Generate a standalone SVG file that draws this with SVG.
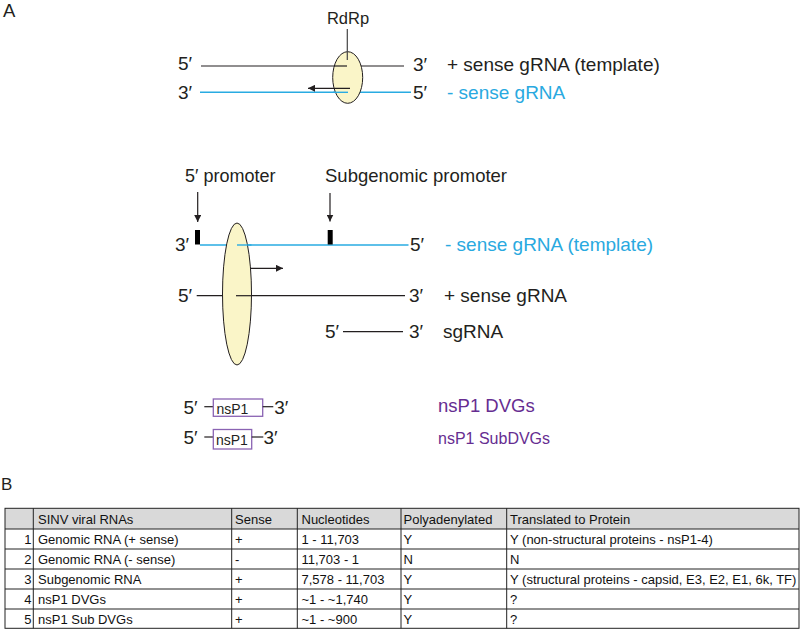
<svg xmlns="http://www.w3.org/2000/svg" width="800" height="630" viewBox="0 0 800 630">
<style>
  .t{font-family:"Liberation Sans",Arial,sans-serif;fill:#231f20}
  .lbl{font-size:19px}
  .blue{fill:#29a9e0}
  .purple{fill:#662d91}
  .bl{stroke:#231f20;stroke-width:1.2;fill:none}
  .bll{stroke:#29abe2;stroke-width:1.4;fill:none}
  .ell{fill:#faf5c8;stroke:#231f20;stroke-width:1}
  .tb{font-family:"Liberation Sans",Arial,sans-serif;font-size:13px;fill:#111}
  .grid{stroke:#222;stroke-width:1;fill:none}
</style>
<defs>
  <marker id="ah" viewBox="0 0 10 10" refX="10" refY="5" markerWidth="7" markerHeight="7" markerUnits="userSpaceOnUse" orient="auto">
    <path d="M0,0 L10,5 L0,10 z" fill="#231f20"/>
  </marker>
</defs>
<rect width="800" height="630" fill="#fff"/>

<text class="t" x="3" y="16.5" font-size="18.5">A</text>
<text class="t" x="1" y="490" font-size="17">B</text>

<!-- Top replication of -sense -->
<g id="top-strands">
  <line class="bl" x1="201" y1="66" x2="404" y2="66"/>
  <line class="bll" x1="200" y1="92.3" x2="411" y2="92.3"/>
  <text class="t lbl" x="178" y="70">5′</text>
  <text class="t lbl" x="178" y="99">3′</text>
  <text class="t lbl" x="413" y="71">3′</text>
  <text class="t lbl" x="413" y="99">5′</text>
  <text class="t lbl" x="447" y="71">+ sense gRNA (template)</text>
  <text class="t lbl blue" x="447" y="99">- sense gRNA</text>
</g>
<g id="rdrp-top">
  <text class="t" x="348" y="24" font-size="16.5" text-anchor="middle">RdRp</text>
  <ellipse class="ell" cx="347.7" cy="77.5" rx="15" ry="25.8"/>
  <line class="bl" x1="334" y1="66" x2="347" y2="66"/>
  <line class="bll" x1="333" y1="92.3" x2="348" y2="92.3"/>
  <line x1="347.3" y1="29" x2="347.3" y2="60" stroke="#444" stroke-width="1.2"/>
</g>

<!-- Middle -->
<g id="promoter-labels">
  <text class="t" x="185" y="182" font-size="18">5′ promoter</text>
  <text class="t" x="325" y="182" font-size="18.5">Subgenomic promoter</text>
</g>
<g id="connectors">
  <line class="bl" x1="197.7" y1="192" x2="197.7" y2="222" marker-end="url(#ah)"/>
  <line class="bl" x1="330" y1="193" x2="330" y2="221.5" marker-end="url(#ah)"/>
  <line class="bl" x1="350" y1="88.3" x2="308" y2="88.3" marker-end="url(#ah)"/>
  <line class="bl" x1="240" y1="268.3" x2="283" y2="268.3" marker-end="url(#ah)"/>
</g>
<g id="minus-template">
  <line class="bll" x1="200" y1="245" x2="408.5" y2="245"/>
  <rect x="195" y="230" width="5" height="14.5" fill="#000"/>
  <rect x="327.7" y="230" width="5" height="14.5" fill="#000"/>
  <text class="t lbl" x="175" y="251">3′</text>
  <text class="t lbl" x="410" y="251">5′</text>
  <text class="t lbl blue" x="445" y="251">- sense gRNA (template)</text>
</g>
<g id="plus-gRNA">
  <line class="bl" x1="196.7" y1="295.7" x2="405" y2="295.7"/>
  <text class="t lbl" x="178" y="302">5′</text>
  <text class="t lbl" x="409" y="302">3′</text>
  <text class="t lbl" x="444" y="302">+ sense gRNA</text>
</g>
<g id="sgRNA">
  <line class="bl" x1="343" y1="331.7" x2="403" y2="331.7"/>
  <text class="t lbl" x="325" y="338">5′</text>
  <text class="t lbl" x="409" y="338">3′</text>
  <text class="t lbl" x="443" y="338">sgRNA</text>
</g>
<g id="rdrp-middle">
  <ellipse class="ell" cx="237" cy="294" rx="14.5" ry="71"/>
  <line class="bll" x1="237" y1="245" x2="251.5" y2="245"/>
  <line class="bl" x1="236" y1="295.7" x2="251.5" y2="295.7"/>
</g>

<!-- DVGs -->
<g id="nsP1-DVG">
  <text class="t lbl" x="183.5" y="414">5′</text>
  <line class="bl" x1="204.3" y1="406.7" x2="213.3" y2="406.7"/>
  <rect x="213.3" y="399" width="49.4" height="17.3" fill="#fff" stroke="#8a63b3" stroke-width="1.3"/>
  <text class="t" x="216.5" y="414" font-size="14">nsP1</text>
  <line class="bl" x1="262.7" y1="406.7" x2="273.3" y2="406.7"/>
  <text class="t lbl" x="274.3" y="414">3′</text>
  <text class="t purple" x="438" y="412" font-size="18.5">nsP1 DVGs</text>
</g>
<g id="nsP1-SubDVG">
  <text class="t lbl" x="183.5" y="444">5′</text>
  <line class="bl" x1="204.3" y1="437" x2="213.3" y2="437"/>
  <rect x="213.3" y="429.5" width="38.4" height="19.5" fill="#fff" stroke="#8a63b3" stroke-width="1.3"/>
  <text class="t" x="216" y="445" font-size="14">nsP1</text>
  <line class="bl" x1="251.7" y1="437" x2="263.3" y2="437"/>
  <text class="t lbl" x="263.5" y="444">3′</text>
  <text class="t purple" x="438" y="444" font-size="16">nsP1 SubDVGs</text>
</g>

<!-- Table -->
<g id="table">
  <rect x="5" y="508.3" width="794" height="20.7" fill="#d9d9d9"/>
  <g class="grid">
    <rect x="5" y="508.3" width="794" height="120"/>
    <line x1="5" y1="529" x2="799" y2="529"/>
    <line x1="5" y1="549" x2="799" y2="549"/>
    <line x1="5" y1="569" x2="799" y2="569"/>
    <line x1="5" y1="589" x2="799" y2="589"/>
    <line x1="5" y1="609" x2="799" y2="609"/>
    <line x1="33.3" y1="508.3" x2="33.3" y2="628.3"/>
    <line x1="231.7" y1="508.3" x2="231.7" y2="628.3"/>
    <line x1="297.3" y1="508.3" x2="297.3" y2="628.3"/>
    <line x1="401" y1="508.3" x2="401" y2="628.3"/>
    <line x1="506.7" y1="508.3" x2="506.7" y2="628.3"/>
  </g>
  <g class="tb">
    <text x="38" y="524">SINV viral RNAs</text>
    <text x="235" y="524">Sense</text>
    <text x="301.5" y="524">Nucleotides</text>
    <text x="403.5" y="524">Polyadenylated</text>
    <text x="510" y="524">Translated to Protein</text>

    <text x="31.5" y="544" text-anchor="end">1</text>
    <text x="38" y="544">Genomic RNA (+ sense)</text>
    <text x="235" y="544">+</text>
    <text x="301.5" y="544">1 - 11,703</text>
    <text x="403.5" y="544">Y</text>
    <text x="510" y="544">Y (non-structural proteins - nsP1-4)</text>

    <text x="31.5" y="564" text-anchor="end">2</text>
    <text x="38" y="564">Genomic RNA (- sense)</text>
    <text x="235" y="564">-</text>
    <text x="301.5" y="564">11,703 - 1</text>
    <text x="403.5" y="564">N</text>
    <text x="510" y="564">N</text>

    <text x="31.5" y="584" text-anchor="end">3</text>
    <text x="38" y="584">Subgenomic RNA</text>
    <text x="235" y="584">+</text>
    <text x="301.5" y="584">7,578 - 11,703</text>
    <text x="403.5" y="584">Y</text>
    <text x="510" y="584">Y (structural proteins - capsid, E3, E2, E1, 6k, TF)</text>

    <text x="31.5" y="604" text-anchor="end">4</text>
    <text x="38" y="604">nsP1 DVGs</text>
    <text x="235" y="604">+</text>
    <text x="301.5" y="604">~1 - ~1,740</text>
    <text x="403.5" y="604">Y</text>
    <text x="510" y="604">?</text>

    <text x="31.5" y="624" text-anchor="end">5</text>
    <text x="38" y="624">nsP1 Sub DVGs</text>
    <text x="235" y="624">+</text>
    <text x="301.5" y="624">~1 - ~900</text>
    <text x="403.5" y="624">Y</text>
    <text x="510" y="624">?</text>
  </g>
</g>
</svg>
